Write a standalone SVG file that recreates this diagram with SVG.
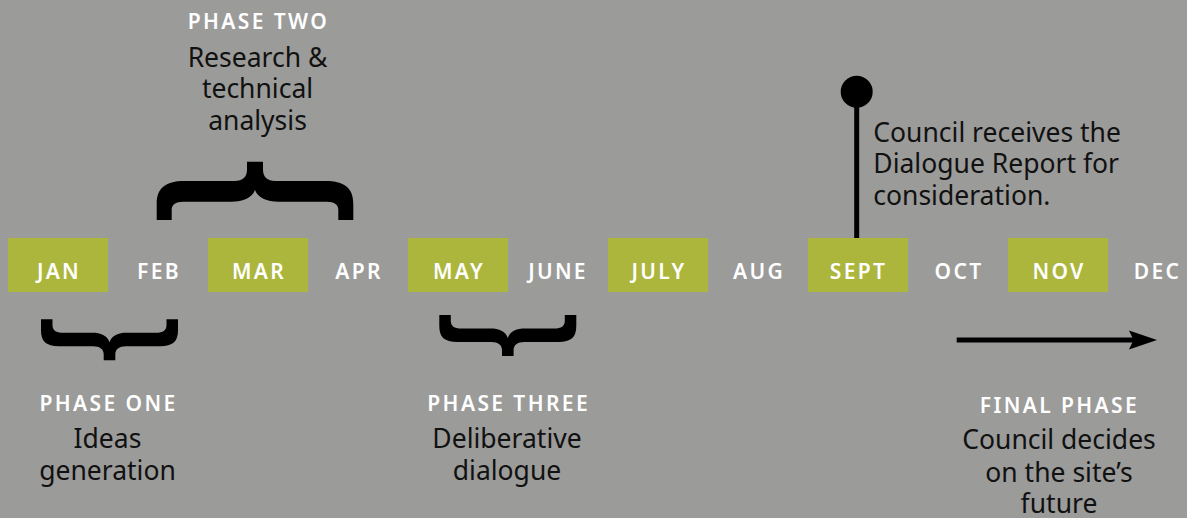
<svg xmlns="http://www.w3.org/2000/svg" width="1187" height="518" viewBox="0 0 1187 518">
<style>
.bg{fill:#9b9b9a}
.box{fill:#acb63c}
.month{font-family:"Noto Sans","Open Sans",sans-serif;font-size:21px;font-weight:600;fill:#ffffff;letter-spacing:2.3px;text-anchor:middle}
.label{font-family:"Noto Sans","Open Sans",sans-serif;font-size:21px;font-weight:600;fill:#ffffff;letter-spacing:2.4px;text-anchor:middle}
.body{font-family:"Noto Sans","Open Sans",sans-serif;font-size:26.5px;fill:#111111}
.mid{text-anchor:middle}
.brace{fill:#000000}
.ink{stroke:#000000;stroke-width:5;fill:none}
</style>
<defs>
<path id="braceDown" d="M0,0 L0,11 C0,22 5,27 18,27 L52,27 C59,27 62.7,30 62.7,35 L62.7,41 L74.3,41 L74.3,35 C74.3,30 78,27 85,27 L119,27 C132,27 137,22 137,11 L137,0 L125.5,0 L125.5,6 C125.5,11 122,13.5 115,13.5 L86,13.5 C77,13.5 71,16 68.5,23 C66,16 60,13.5 51,13.5 L22,13.5 C15,13.5 11.5,11 11.5,6 L11.5,0 Z"/>
</defs>
<rect class="bg" x="0" y="0" width="1187" height="518"/>

<g id="months">
<g id="jan"><rect class="box" x="8" y="238" width="100" height="54"/><text class="month" x="59" y="278.5">JAN</text></g>
<g id="feb"><text class="month" x="159" y="278.5">FEB</text></g>
<g id="mar"><rect class="box" x="208" y="238" width="100" height="54"/><text class="month" x="259" y="278.5">MAR</text></g>
<g id="apr"><text class="month" x="359" y="278.5">APR</text></g>
<g id="may"><rect class="box" x="408" y="238" width="100" height="54"/><text class="month" x="459" y="278.5">MAY</text></g>
<g id="june"><text class="month" x="558" y="278.5">JUNE</text></g>
<g id="july"><rect class="box" x="608" y="238" width="100" height="54"/><text class="month" x="659" y="278.5">JULY</text></g>
<g id="aug"><text class="month" x="759" y="278.5">AUG</text></g>
<g id="sept"><rect class="box" x="808" y="238" width="100" height="54"/><text class="month" x="858.5" y="278.5">SEPT</text></g>
<g id="oct"><text class="month" x="959" y="278.5">OCT</text></g>
<g id="nov"><rect class="box" x="1008" y="238" width="100" height="54"/><text class="month" x="1059" y="278.5">NOV</text></g>
<g id="dec"><text class="month" x="1157.5" y="278.5">DEC</text></g>
</g>

<g id="connectors">
<path class="brace" transform="translate(156.7,161.7)" d="M0,58.3 L0,42 C0,27 8,19.3 28,19.3 L78,19.3 C86,19.3 90.3,15 90.3,8 L90.3,0 L106.3,0 L106.3,8 C106.3,15 110.6,19.3 118.6,19.3 L168.6,19.3 C188.6,19.3 196.6,27 196.6,42 L196.6,58.3 L181.6,58.3 L181.6,48 C181.6,43 178,40 170,40 L122,40 C110,40 101,36 98.3,28.3 C95.6,36 86.6,40 74.6,40 L26.6,40 C18.6,40 15,43 15,48 L15,58.3 Z"/>
<use class="brace" href="#braceDown" transform="translate(41,319.3)"/>
<use class="brace" href="#braceDown" transform="translate(439.3,315)"/>
<line class="ink" x1="856.7" y1="92" x2="856.7" y2="238"/>
<circle cx="856.7" cy="91.7" r="16" fill="#000000"/>
<line class="ink" x1="956.7" y1="340" x2="1134" y2="340"/>
<polygon points="1157,340 1129,330.5 1133.5,340 1129,349.5" fill="#000000"/>
</g>

<g id="phase-two">
<text class="label" x="258.5" y="29">PHASE TWO</text>
<text class="body mid" x="257.5" y="66.7">Research &amp;</text>
<text class="body mid" x="257.5" y="98.4">technical</text>
<text class="body mid" x="257.5" y="130.1">analysis</text>
</g>

<g id="council-report">
<text class="body" x="873.3" y="141.7">Council receives the</text>
<text class="body" x="873.3" y="173.4">Dialogue Report for</text>
<text class="body" x="873.3" y="205">consideration.</text>
</g>

<g id="phase-one">
<text class="label" x="108.5" y="410.7">PHASE ONE</text>
<text class="body mid" x="107.5" y="448.3">Ideas</text>
<text class="body mid" x="107.5" y="480">generation</text>
</g>

<g id="phase-three">
<text class="label" x="508.7" y="410.7">PHASE THREE</text>
<text class="body mid" x="507" y="448.3">Deliberative</text>
<text class="body mid" x="507" y="480">dialogue</text>
</g>

<g id="final-phase">
<text class="label" x="1059.5" y="412.7">FINAL PHASE</text>
<text class="body mid" x="1059" y="449.3">Council decides</text>
<text class="body mid" x="1059" y="481.7">on the site’s</text>
<text class="body mid" x="1059" y="513.3">future</text>
</g>
</svg>
